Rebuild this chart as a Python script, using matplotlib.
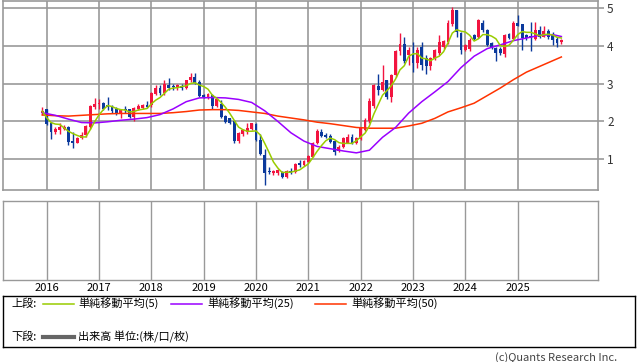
import numpy as np
import matplotlib
matplotlib.use('Agg')
import matplotlib.pyplot as plt
from matplotlib.lines import Line2D

plt.rcParams['font.family'] = ['Noto Sans CJK JP', 'DejaVu Sans']

W, H = 638, 362

# month index of each candle, 0 = 2016-01 (first candle is 2015-12)
months = np.arange(-1, 119)

opens = [2.21, 2.32, 1.95, 1.73, 1.77, 1.80, 1.86, 1.48, 1.44, 1.55,
         1.64, 1.85, 2.39, 2.46, 2.49, 2.43, 2.39, 2.32, 2.21, 2.32,
         2.32, 2.12, 2.34, 2.35, 2.43, 2.42, 2.72, 2.87, 2.74, 2.97,
         2.94, 2.87, 2.93, 2.87, 3.09, 3.17, 3.04, 2.69, 2.63, 2.69,
         2.40, 2.46, 2.14, 2.08, 2.02, 1.47, 1.68, 1.72, 1.80, 1.94,
         1.52, 1.12, 0.67, 0.64, 0.65, 0.67, 0.52, 0.70, 0.67, 0.89,
         0.85, 0.94, 1.07, 1.42, 1.73, 1.64, 1.61, 1.48, 1.22, 1.33,
         1.44, 1.60, 1.44, 1.53, 1.77, 2.00, 2.40, 2.93, 2.84, 3.08,
         2.65, 3.22, 3.85, 4.05, 3.74, 3.79, 3.53, 3.96, 3.66, 3.46,
         3.66, 3.81, 3.96, 4.10, 4.58, 4.93, 4.34, 3.89, 3.90, 4.27,
         4.23, 4.60, 4.42, 4.07, 3.94, 3.92, 3.79, 4.31, 4.18, 4.60,
         4.56, 4.27, 4.24, 4.18, 4.42, 4.24, 4.39, 4.27, 4.18, 4.10]
highs = [2.37, 2.34, 1.99, 1.86, 1.96, 1.90, 1.88, 1.73, 1.58, 1.72,
         1.90, 2.42, 2.63, 2.60, 2.52, 2.65, 2.42, 2.39, 2.33, 2.40,
         2.34, 2.37, 2.47, 2.45, 2.53, 2.78, 2.96, 2.96, 3.09, 3.15,
         3.00, 3.00, 3.00, 3.10, 3.28, 3.28, 3.09, 2.72, 2.74, 2.72,
         2.63, 2.56, 2.16, 2.10, 2.05, 1.73, 1.80, 1.95, 1.97, 1.96,
         1.68, 1.28, 0.80, 0.72, 0.75, 0.70, 0.73, 0.77, 0.90, 0.98,
         0.97, 1.12, 1.45, 1.81, 1.80, 1.70, 1.68, 1.51, 1.38, 1.60,
         1.68, 1.68, 1.58, 1.85, 2.08, 2.62, 3.00, 3.26, 3.48, 3.10,
         3.25, 3.88, 4.34, 4.23, 3.96, 4.10, 3.95, 4.10, 3.74, 3.70,
         3.92, 4.27, 4.15, 4.68, 5.03, 4.95, 4.36, 4.05, 4.20, 4.30,
         4.71, 4.68, 4.45, 4.10, 3.96, 3.95, 4.31, 4.33, 4.65, 4.82,
         4.58, 4.30, 4.62, 4.62, 4.53, 4.53, 4.45, 4.36, 4.23, 4.18]
lows = [2.17, 1.90, 1.53, 1.68, 1.68, 1.76, 1.37, 1.30, 1.42, 1.53,
        1.60, 1.80, 2.34, 2.34, 2.30, 2.30, 2.22, 2.17, 2.10, 2.21,
        2.08, 2.02, 2.30, 2.33, 2.35, 2.38, 2.69, 2.69, 2.69, 2.84,
        2.84, 2.83, 2.83, 2.85, 3.04, 3.00, 2.65, 2.62, 2.60, 2.32,
        2.38, 2.10, 1.96, 1.93, 1.42, 1.42, 1.62, 1.66, 1.78, 1.48,
        1.12, 0.31, 0.60, 0.58, 0.58, 0.50, 0.50, 0.62, 0.64, 0.80,
        0.82, 0.92, 1.05, 1.40, 1.58, 1.55, 1.42, 1.11, 1.18, 1.29,
        1.42, 1.40, 1.40, 1.50, 1.75, 1.95, 2.35, 2.69, 2.80, 2.60,
        2.52, 3.18, 3.75, 3.53, 3.48, 3.31, 3.40, 3.35, 3.26, 3.35,
        3.62, 3.74, 3.92, 4.05, 4.53, 4.23, 3.77, 3.85, 3.86, 4.15,
        4.20, 4.35, 3.98, 3.90, 3.60, 3.76, 3.70, 4.17, 4.16, 4.51,
        3.88, 4.15, 3.86, 4.16, 4.20, 4.22, 4.18, 4.01, 3.95, 4.05]
closes = [2.27, 1.92, 1.73, 1.80, 1.86, 1.86, 1.46, 1.44, 1.55, 1.64,
          1.88, 2.40, 2.46, 2.49, 2.34, 2.39, 2.27, 2.23, 2.32, 2.29,
          2.12, 2.36, 2.41, 2.43, 2.37, 2.74, 2.87, 2.74, 3.00, 2.88,
          2.90, 2.95, 2.87, 3.09, 3.17, 3.02, 2.67, 2.65, 2.72, 2.40,
          2.60, 2.12, 1.99, 1.96, 1.48, 1.70, 1.76, 1.82, 1.95, 1.51,
          1.15, 0.65, 0.66, 0.69, 0.71, 0.53, 0.70, 0.65, 0.88, 0.84,
          0.95, 1.10, 1.42, 1.74, 1.61, 1.58, 1.46, 1.20, 1.33, 1.55,
          1.58, 1.44, 1.55, 1.82, 2.05, 2.55, 2.96, 2.84, 3.04, 2.65,
          3.22, 3.85, 4.05, 3.59, 3.88, 3.53, 3.89, 3.48, 3.46, 3.66,
          3.88, 4.10, 4.12, 4.60, 4.93, 4.36, 3.88, 4.01, 4.16, 4.18,
          4.68, 4.42, 4.01, 3.96, 3.81, 3.81, 4.29, 4.20, 4.60, 4.53,
          4.21, 4.21, 4.22, 4.40, 4.24, 4.38, 4.24, 4.16, 4.07, 4.16]

# simple moving averages
ma5 = [2.27, 2.10, 1.97, 1.93, 1.92, 1.83, 1.74, 1.68, 1.63, 1.59,
       1.59, 1.78, 1.99, 2.17, 2.31, 2.42, 2.39, 2.34, 2.31, 2.30,
       2.25, 2.26, 2.30, 2.32, 2.34, 2.46, 2.56, 2.63, 2.74, 2.85,
       2.88, 2.89, 2.92, 2.94, 3.00, 3.02, 2.96, 2.92, 2.85, 2.69,
       2.61, 2.50, 2.37, 2.21, 2.03, 1.85, 1.78, 1.74, 1.74, 1.75,
       1.64, 1.42, 1.18, 0.93, 0.77, 0.65, 0.66, 0.66, 0.69, 0.72,
       0.80, 0.88, 1.04, 1.21, 1.36, 1.49, 1.56, 1.52, 1.44, 1.42,
       1.42, 1.42, 1.49, 1.59, 1.69, 1.88, 2.19, 2.44, 2.69, 2.81,
       2.94, 3.12, 3.36, 3.47, 3.72, 3.78, 3.79, 3.67, 3.65, 3.60,
       3.67, 3.72, 3.84, 4.07, 4.33, 4.42, 4.38, 4.36, 4.27, 4.12,
       4.18, 4.29, 4.29, 4.25, 4.18, 4.00, 3.98, 4.01, 4.14, 4.29,
       4.37, 4.35, 4.35, 4.31, 4.26, 4.29, 4.30, 4.28, 4.22, 4.20]

ma_months = [-1, 2, 5, 8, 11, 14, 17, 20, 23, 26, 29, 32, 35, 38, 41,
             44, 47, 50, 53, 56, 59, 62, 65, 68, 71, 74, 77, 80, 83, 86,
             89, 92, 95, 98, 101, 104, 107, 110, 113, 116, 118]
ma25 = [2.23, 2.16, 2.06, 1.97, 1.96, 1.99, 2.03, 2.06, 2.10, 2.18,
        2.33, 2.52, 2.62, 2.63, 2.62, 2.58, 2.50, 2.28, 2.00, 1.70,
        1.48, 1.34, 1.28, 1.22, 1.17, 1.24, 1.58, 1.84, 2.22, 2.52,
        2.78, 3.05, 3.42, 3.72, 3.92, 4.02, 4.13, 4.20, 4.27, 4.29, 4.24]
ma50 = [2.17, 2.15, 2.14, 2.16, 2.18, 2.20, 2.21, 2.21, 2.21, 2.21,
        2.23, 2.26, 2.30, 2.31, 2.31, 2.29, 2.25, 2.21, 2.14, 2.09,
        2.04, 1.98, 1.94, 1.89, 1.84, 1.82, 1.82, 1.82, 1.88, 1.95,
        2.08, 2.25, 2.36, 2.48, 2.68, 2.88, 3.10, 3.30, 3.45, 3.60, 3.70]

years = ['2016', '2017', '2018', '2019', '2020',
         '2021', '2022', '2023', '2024', '2025']
year_pos = [0, 12, 24, 36, 48, 60, 72, 84, 96, 108]

grid_c = '#999999'
up_c = '#f2143f'
down_c = '#0b3a9c'

fig = plt.figure(figsize=(W / 100, H / 100), dpi=100)


def box(l, t, r, b):
    return [l / W, 1 - b / H, (r - l) / W, (b - t) / H]


def px(x, y):
    return x / W, 1 - y / H


# upper panel: candles + moving averages
ax = fig.add_axes(box(3, 0.5, 598, 190))
o = np.array(opens)
c = np.array(closes)
cols = np.where(c >= o, up_c, down_c)
ax.vlines(months, lows, highs, colors=cols, lw=1.0, zorder=2)
ax.bar(months, np.maximum(np.abs(c - o), 0.03), bottom=np.minimum(o, c),
       width=0.66, color=cols, linewidth=0, zorder=3)
ax.plot(ma_months, ma50, color='#ff3300', lw=1.1, zorder=4)
ax.plot(ma_months, ma25, color='#9a00ff', lw=1.1, zorder=4)
ax.plot(months, ma5, color='#99cc00', lw=1.1, zorder=5)

ax.set_xlim(-10, 126.4)
ax.set_ylim(0.19, 5.19)
ax.set_xticks(year_pos)
ax.set_xticklabels([])
ax.set_yticks([1, 2, 3, 4, 5])
ax.yaxis.tick_right()
ax.tick_params(axis='x', length=0)
ax.tick_params(axis='y', length=4.5, width=1.2, color=grid_c,
               labelsize=8.5, labelcolor='#333333', pad=2)
ax.grid(True, color=grid_c, lw=1.2)
ax.set_axisbelow(True)
for s in ax.spines.values():
    s.set_color(grid_c)
    s.set_linewidth(1.2)

# lower panel: volume (empty)
ax2 = fig.add_axes(box(3, 201, 598, 280))
ax2.set_xlim(-10, 126.4)
ax2.set_ylim(0, 1)
ax2.set_xticks(year_pos)
ax2.set_xticklabels(years)
ax2.set_yticks([])
ax2.tick_params(axis='x', length=0, labelsize=8, pad=2)
ax2.grid(True, axis='x', color=grid_c, lw=1.0)
for s in ax2.spines.values():
    s.set_color(grid_c)
    s.set_linewidth(1.0)

# legend box
lax = fig.add_axes(box(3, 295.5, 635, 346.5))
lax.set_xticks([])
lax.set_yticks([])
for s in lax.spines.values():
    s.set_color('black')
    s.set_linewidth(1.0)

row1, row2 = 303.5, 337
fig.text(*px(11, row1), '上段:', fontsize=8, va='center')
fig.text(*px(11, row2), '下段:', fontsize=8, va='center')
items = [(43, 74, 78, '#99cc00', '単純移動平均(5)'),
         (171, 202, 207, '#9a00ff', '単純移動平均(25)'),
         (315, 346, 351, '#ff3300', '単純移動平均(50)')]
for x1, x2, tx, col, lab in items:
    xa, ya = px(x1, row1)
    xb, _ = px(x2, row1)
    fig.add_artist(Line2D([xa, xb], [ya, ya], color=col, lw=1.1,
                          transform=fig.transFigure))
    fig.text(*px(tx, row1), lab, fontsize=8, va='center')
xa, ya = px(43, row2)
xb, _ = px(74, row2)
fig.add_artist(Line2D([xa, xb], [ya, ya], color='#666666', lw=3,
                      transform=fig.transFigure))
fig.text(*px(78, row2), '出来高 単位:(株/口/枚)', fontsize=8, va='center')

fig.text(*px(617, 357.5), '(c)Quants Research Inc.', fontsize=8,
         ha='right', va='center', color='#444444')

fig.savefig('out.png', dpi=100)
